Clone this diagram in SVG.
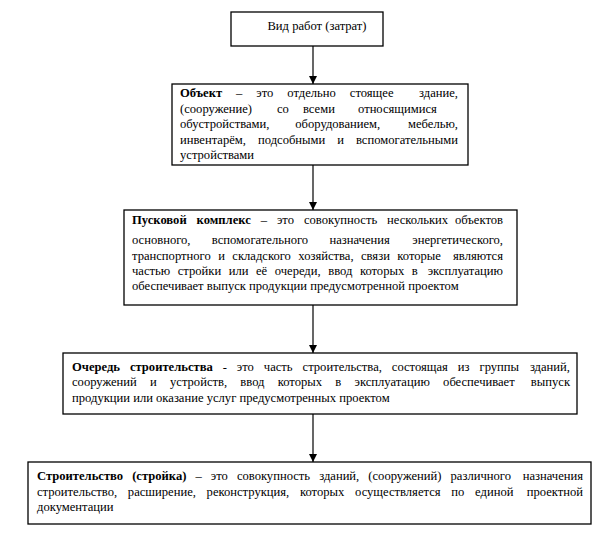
<svg xmlns="http://www.w3.org/2000/svg" width="605" height="557" viewBox="0 0 605 557">
<style>
rect.box{fill:#fff;stroke:#000;stroke-width:1.3}
text{font-family:"Liberation Serif","Times New Roman",serif;font-size:12.6px;fill:#000}
.b{font-weight:bold}
.end{text-anchor:end}
line.c{stroke:#000;stroke-width:1.2}
</style>
<defs>
<marker id="ah" markerUnits="userSpaceOnUse" markerWidth="8" markerHeight="8" refX="8" refY="4" orient="auto">
<path d="M0,0 L8,4 L0,8 z" fill="#000"/>
</marker>
</defs>
<rect width="605" height="557" fill="#fff"/>
<g id="connectors">
<line class="c" x1="313" y1="46" x2="313" y2="84" marker-end="url(#ah)"/>
<line class="c" x1="313" y1="165" x2="313" y2="210" marker-end="url(#ah)"/>
<line class="c" x1="313" y1="305" x2="313" y2="353" marker-end="url(#ah)"/>
<line class="c" x1="313" y1="414" x2="313" y2="462" marker-end="url(#ah)"/>
</g>
<g id="node-vid">
<rect class="box" x="231" y="12" width="152" height="34"/>
<text x="317" y="30" text-anchor="middle">Вид работ (затрат)</text>
</g>
<g id="node-object">
<rect class="box" x="172" y="84" width="296" height="81"/>
<text x="180" y="97" word-spacing="10.8"><tspan class="b">Объект</tspan> – это отдельно стоящее</text>
<text x="458" y="97" class="end">здание,</text>
<text y="113"><tspan x="180">(сооружение)</tspan><tspan x="277">со</tspan><tspan x="303">всеми</tspan><tspan x="358">относящимися</tspan></text>
<text x="180" y="128" word-spacing="22.7">обустройствами, оборудованием,</text>
<text x="458" y="128" class="end">мебелью,</text>
<text x="180" y="144" word-spacing="8.9">инвентарём, подсобными и</text>
<text x="458" y="144" class="end">вспомогательными</text>
<text x="180" y="159">устройствами</text>
</g>
<g id="node-pusk">
<rect class="box" x="124" y="210" width="393" height="95"/>
<text x="132" y="224" word-spacing="6.8"><tspan class="b">Пусковой комплекс</tspan> – это совокупность нескольких</text>
<text x="503" y="224" class="end">объектов</text>
<text x="132" y="244" word-spacing="18.2">основного, вспомогательного назначения</text>
<text x="503" y="244" class="end">энергетического,</text>
<text x="132" y="260" word-spacing="4.3">транспортного и складского хозяйства, связи которые</text>
<text x="503" y="260" class="end">являются</text>
<text x="132" y="275" word-spacing="4.4">частью стройки или её очереди, ввод которых в</text>
<text x="503" y="275" class="end">эксплуатацию</text>
<text x="132" y="290">обеспечивает выпуск продукции предусмотренной проектом</text>
</g>
<g id="node-ochered">
<rect class="box" x="63" y="353" width="514" height="61"/>
<text x="72" y="371" word-spacing="6.8"><tspan class="b">Очередь строительства</tspan> - это часть строительства, состоящая из группы</text>
<text x="570" y="371" class="end">зданий,</text>
<text x="72" y="386" word-spacing="10.1">сооружений и устройств, ввод которых в эксплуатацию обеспечивает</text>
<text x="570" y="386" class="end">выпуск</text>
<text x="72" y="402">продукции или оказание услуг предусмотренных проектом</text>
</g>
<g id="node-stroika">
<rect class="box" x="28" y="462" width="563" height="62"/>
<text x="37" y="480" word-spacing="5.9"><tspan class="b">Строительство (стройка)</tspan> – это совокупность зданий, (сооружений) различного</text>
<text x="583" y="480" class="end">назначения</text>
<text x="37" y="496" word-spacing="7.6">строительство, расширение, реконструкция, которых осуществляется по единой</text>
<text x="583" y="496" class="end">проектной</text>
<text x="37" y="511">документации</text>
</g>
</svg>
